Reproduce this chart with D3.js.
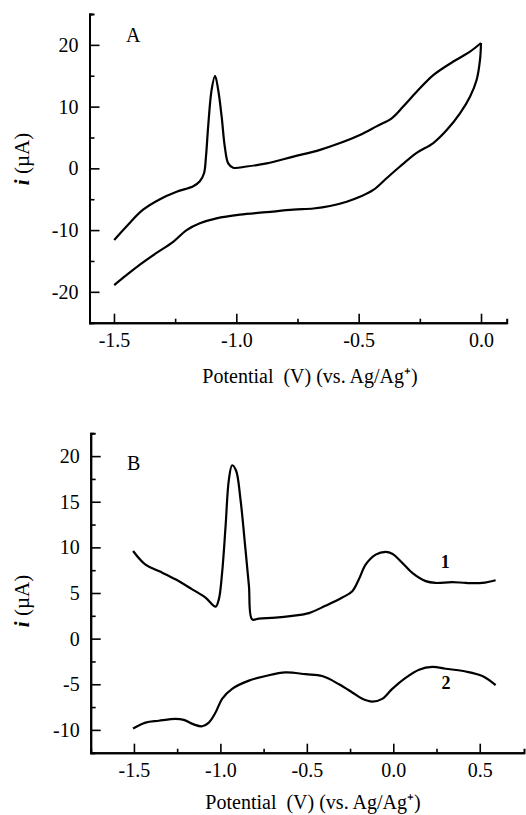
<html>
<head>
<script src="https://cdn.jsdelivr.net/npm/d3@7"></script>
<style>
    body { margin:0; background:white; }
</style>
</head>
<body>
<svg id="chart" width="526" height="815"></svg>
<script>
    // panel A: cyclic voltammogram (V, uA)
    let cvUpper = [
        [-1.499,-11.6],[-1.449,-9.4],[-1.381,-6.7],[-1.312,-5.0],[-1.244,-3.8],[-1.176,-2.9],
        [-1.149,-2.1],[-1.132,-0.8],[-1.124,1.9],[-1.115,6.8],[-1.101,12.7],[-1.087,15.0],
        [-1.074,12.7],[-1.060,8.4],[-1.047,3.5],[-1.033,0.8],[-1.013,0.1],[-0.958,0.3],
        [-0.876,0.8],[-0.767,1.9],[-0.658,3.0],[-0.576,4.1],[-0.495,5.4],[-0.427,6.8],
        [-0.365,8.1],[-0.318,10.0],[-0.263,12.4],[-0.195,15.1],[-0.113,17.3],[-0.045,18.9],[0.0,20.3]
    ]
    let cvLower = [
        [0.0,20.3],[-0.004,17.6],[-0.018,14.3],[-0.045,11.6],[-0.086,8.9],[-0.140,6.2],
        [-0.195,4.1],[-0.263,2.5],[-0.331,0.3],[-0.386,-1.6],[-0.440,-3.5],[-0.495,-4.6],
        [-0.549,-5.4],[-0.617,-6.1],[-0.685,-6.5],[-0.767,-6.7],[-0.876,-7.1],[-0.985,-7.5],
        [-1.081,-8.1],[-1.149,-8.9],[-1.203,-10.0],[-1.258,-11.9],[-1.326,-13.7],
        [-1.394,-15.6],[-1.449,-17.3],[-1.499,-18.9]
    ]

    // panel B: curves 1 and 2
    let curve1 = [
        [-1.505,9.6],[-1.433,8.1],[-1.356,7.4],[-1.26,6.5],[-1.163,5.4],[-1.086,4.5],
        [-1.028,3.5],[-1.009,4.3],[-0.990,7.2],[-0.970,12.3],[-0.951,17.4],[-0.932,19.0],
        [-0.909,18.4],[-0.884,15.3],[-0.855,9.8],[-0.835,5.8],[-0.816,2.1],[-0.777,2.2],
        [-0.681,2.3],[-0.584,2.5],[-0.488,2.8],[-0.392,3.6],[-0.295,4.5],[-0.237,5.2],
        [-0.199,6.5],[-0.160,8.1],[-0.102,9.2],[-0.044,9.5],[-0.006,9.3],[0.052,8.3],
        [0.110,7.2],[0.187,6.3],[0.245,6.1],[0.341,6.2],[0.419,6.1],[0.515,6.1],[0.592,6.4]
    ]
    let curve2 = [
        [-1.505,-9.85],[-1.433,-9.2],[-1.356,-9.0],[-1.26,-8.8],[-1.212,-8.9],[-1.154,-9.4],
        [-1.105,-9.6],[-1.067,-9.2],[-1.028,-8.1],[-0.990,-6.6],[-0.932,-5.5],[-0.835,-4.6],
        [-0.739,-4.1],[-0.623,-3.7],[-0.507,-3.9],[-0.411,-4.1],[-0.314,-5.0],[-0.237,-5.9],
        [-0.179,-6.6],[-0.122,-6.9],[-0.064,-6.6],[-0.006,-5.5],[0.071,-4.3],[0.149,-3.4],
        [0.226,-3.1],[0.303,-3.3],[0.419,-3.6],[0.515,-4.1],[0.592,-5.1]
    ]

    let aXTicks = [-1.5,-1.0,-0.5,0.0]
    let aXMinor = [-1.25,-0.75,-0.25]
    let aYTicks = [-20,-10,0,10,20]
    let aYMinor = [-15,-5,5,15]
    let bXTicks = [-1.5,-1.0,-0.5,0.0,0.5]
    let bXMinor = [-1.25,-0.75,-0.25,0.25]
    let bYTicks = [-10,-5,0,5,10,15,20]
    let bYMinor = [-7.5,-2.5,2.5,7.5,12.5,17.5]

    let xLabel = "Potential\u00A0 (V) (vs. Ag/Ag\u207A)"
    let serif = '"Liberation Serif", "Times New Roman", serif'

    let svg = d3.select("#chart")

    function drawPanel(cfg) {
        let g = svg.append("g")

        let x = d3.scaleLinear().domain(cfg.xDomain).range([cfg.left, cfg.right])
        let y = d3.scaleLinear().domain(cfg.yDomain).range([cfg.bottom, cfg.top])

        // minor ticks first
        g.append("g")
         .attr("transform", `translate(0,${cfg.bottom})`)
         .call(d3.axisBottom(x).tickValues(cfg.xMinor).tickSize(-4).tickFormat(""))
        g.append("g")
         .attr("transform", `translate(${cfg.left},0)`)
         .call(d3.axisLeft(y).tickValues(cfg.yMinor).tickSize(-5).tickFormat(""))

        let xAxis = d3.axisBottom(x)
                    .tickValues(cfg.xTicks)
                    .tickSizeInner(-9)
                    .tickSizeOuter(0)
                    .tickPadding(10)
                    .tickFormat(d => d.toFixed(1))
        let yAxis = d3.axisLeft(y)
                    .tickValues(cfg.yTicks)
                    .tickSizeInner(-10)
                    .tickSizeOuter(-3)
                    .tickPadding(11)
                    .tickFormat(d => d.toString())

        g.append("g")
         .attr("transform", `translate(0,${cfg.bottom})`)
         .call(xAxis)
        g.append("g")
         .attr("transform", `translate(${cfg.left},0)`)
         .call(yAxis)

        g.selectAll(".domain").attr("stroke", "black").attr("stroke-width", 2)
        g.selectAll(".tick line").attr("stroke", "black").attr("stroke-width", 1.6)
        g.selectAll(".tick text")
         .style("font-family", serif)
         .style("font-size", "20px")
         .attr("fill", "black")

        let line = d3.line()
                    .x(d => x(d[0]))
                    .y(d => y(d[1]))
                    .curve(d3.curveCatmullRom.alpha(0.5))

        cfg.series.forEach(s => {
            g.append("path")
             .attr("d", line(s))
             .attr("fill", "none")
             .attr("stroke", "black")
             .attr("stroke-width", 2.2)
             .attr("stroke-linejoin", "round")
        })

        g.append("text")
         .attr("x", cfg.letterX).attr("y", cfg.letterY)
         .style("font-family", serif)
         .style("font-size", "20px")
         .text(cfg.letter)

        g.append("text")
         .attr("x", cfg.xLabelX)
         .attr("y", cfg.xLabelY)
         .attr("text-anchor", "middle")
         .style("font-family", serif)
         .style("font-size", "20px")
         .text(xLabel)

        let yl = g.append("text")
         .attr("transform", `translate(29,${cfg.yLabelMid}) rotate(-90)`)
         .attr("text-anchor", "middle")
         .style("font-family", serif)
         .style("font-size", "21px")
        yl.append("tspan").attr("font-style", "italic").attr("font-weight", "bold").text("i")
        yl.append("tspan").text(" (\u00B5A)")

        return { x, y, g }
    }

    drawPanel({
        left: 89.5, right: 506.7, top: 14, bottom: 322.7,
        xDomain: [-1.6, 0.105], yDomain: [-25, 25],
        xTicks: aXTicks, xMinor: aXMinor, yTicks: aYTicks, yMinor: aYMinor,
        series: [cvUpper, cvLower],
        letter: "A", letterX: 126, letterY: 42,
        xLabelX: 310, xLabelY: 383, yLabelMid: 159
    })

    let b = drawPanel({
        left: 90.7, right: 524, top: 433.3, bottom: 752.7,
        xDomain: [-1.75, 0.756], yDomain: [-12.5, 22.5],
        xTicks: bXTicks, xMinor: bXMinor, yTicks: bYTicks, yMinor: bYMinor,
        series: [curve1, curve2],
        letter: "B", letterX: 127, letterY: 470,
        xLabelX: 313, xLabelY: 809, yLabelMid: 601
    })

    // curve labels
    b.g.append("text")
     .attr("x", b.x(0.30)).attr("y", b.y(7.7))
     .attr("text-anchor", "middle")
     .style("font-family", serif)
     .style("font-size", "18px").style("font-weight", "bold")
     .text("1")
    b.g.append("text")
     .attr("x", b.x(0.305)).attr("y", b.y(-5.5))
     .attr("text-anchor", "middle")
     .style("font-family", serif)
     .style("font-size", "18px").style("font-weight", "bold")
     .text("2")
</script>
</body>
</html>
